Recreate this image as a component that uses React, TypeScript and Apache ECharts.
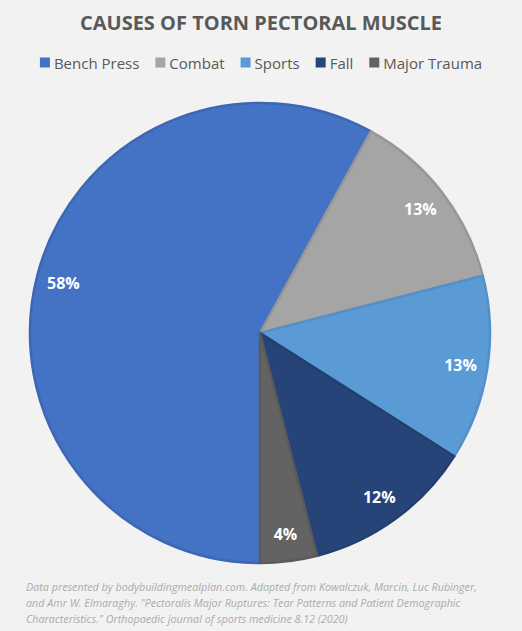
import React, { useEffect, useRef } from "react";
import * as echarts from "echarts";

const categories = ["Bench Press", "Combat", "Sports", "Fall", "Major Trauma"];
const values = [58, 13, 13, 12, 4];
const colors = ["#4472C4", "#A5A5A5", "#5B9BD5", "#264478", "#636363"];
const borderColors = ["#3D67B4", "#979797", "#5390C8", "#21406F", "#5A5A5A"];
const titleText = "CAUSES OF TORN PECTORAL MUSCLE";
const footnoteLines = [
  "Data presented by bodybuildingmealplan.com. Adapted from Kowalczuk, Marcin, Luc Rubinger,",
  "and Amr W. Elmaraghy. \"Pectoralis Major Ruptures: Tear Patterns and Patient Demographic",
  "Characteristics.\" Orthopaedic journal of sports medicine 8.12 (2020)",
];

export default function App() {
  const ref = useRef<HTMLDivElement>(null);
  useEffect(() => {
    if (!ref.current) return;
    const chart = echarts.init(ref.current, undefined, { renderer: "svg" });
    const data = categories.map((name, i) => ({
      name,
      value: values[i],
      itemStyle: { color: colors[i], borderColor: borderColors[i], borderWidth: 2.5 },
    }));
    const labelData = categories.map((name, i) => ({
      name,
      value: values[i],
      itemStyle: { color: "rgba(0,0,0,0)" },
    }));
    chart.setOption({
      animation: false,
      backgroundColor: "#F2F2F2",
      title: {
        text: titleText,
        left: "center",
        top: 7,
        textStyle: {
          fontFamily: "Open Sans",
          fontWeight: "bold",
          fontSize: 20,
          color: "#595959",
        },
      },
      legend: {
        top: 50,
        left: "center",
        itemWidth: 10,
        itemHeight: 10,
        itemGap: 16,
        icon: "rect",
        data: categories.map((name, i) => ({ name, itemStyle: { color: colors[i], borderWidth: 0 } })),
        textStyle: { fontFamily: "Open Sans", fontSize: 15, color: "#595959", padding: [0, 0, 0, -1] },
      },
      series: [
        {
          type: "pie",
          center: [260, 333],
          radius: [0, 230],
          startAngle: 270,
          clockwise: true,
          data,
          label: { show: false },
          labelLine: { show: false },
          emphasis: { disabled: true },
        },
        {
          type: "pie",
          center: [260, 333],
          radius: [170, 230],
          startAngle: 270,
          clockwise: true,
          data: labelData,
          silent: true,
          legendHoverLink: false,
          label: {
            show: true,
            position: "inside",
            formatter: "{c}%",
            fontFamily: "Open Sans",
            fontWeight: "bold",
            fontSize: 16,
            color: "#FFFFFF",
          },
          labelLine: { show: false },
          emphasis: { disabled: true },
        },
      ],
      graphic: [
        {
          type: "text",
          left: 26,
          top: 579,
          style: {
            text: footnoteLines.join("\n"),
            font: "italic 10.75px 'Open Sans'",
            fill: "#ABABAB",
            lineHeight: 16,
          },
        },
      ],
    });
    return () => chart.dispose();
  }, []);
  return (
    <div
      ref={ref}
      style={{ position: "fixed", left: 0, top: 0, width: 522, height: 631 }}
    />
  );
}
